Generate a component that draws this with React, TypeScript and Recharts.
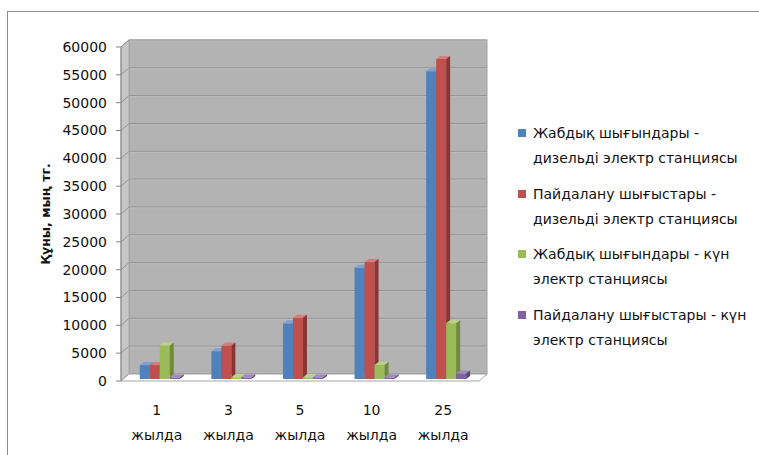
import { BarChart, Bar, XAxis, YAxis, Legend } from 'recharts';

const years = ['1', '3', '5', '10', '25'];
const yearWord = 'жылда';
const seriesNames = [
  'Жабдық шығындары -\nдизельді электр станциясы',
  'Пайдалану шығыстары -\nдизельді электр станциясы',
  'Жабдық шығындары - күн\nэлектр станциясы',
  'Пайдалану шығыстары - күн\nэлектр станциясы',
];
const dieselEquipment = [2500, 5000, 10000, 20000, 55300];
const dieselOperating = [2500, 6000, 11000, 21000, 57500];
const solarEquipment = [6000, 300, 300, 2500, 10000];
const solarOperating = [300, 300, 300, 300, 1000];
const yTicks = [0, 5000, 10000, 15000, 20000, 25000, 30000, 35000, 40000, 45000, 50000, 55000, 60000];
const yTitle = 'Құны, мың тг.';

const FONT = '"DejaVu Sans", Verdana, sans-serif';
const W = 759;
const H = 455;
const MARGIN = { top: 47, right: 280, bottom: 0, left: 0 };
const YAXIS_W = 121;
const XAXIS_H = 74;
const PLOT = {
  x: MARGIN.left + YAXIS_W,
  y: MARGIN.top,
  w: W - MARGIN.left - YAXIS_W - MARGIN.right,
  h: H - MARGIN.top - MARGIN.bottom - XAXIS_H,
};
// depth of the fake 3d walls
const WALL_DX = 8;
const WALL_DY = 7;

const palettes = [
  { front: '#4f81bd', top: '#7da1d1', side: '#36598a' },
  { front: '#c0504d', top: '#d67c79', side: '#8a3533' },
  { front: '#9bbb59', top: '#bad486', side: '#6f8a3b' },
  { front: '#8064a2', top: '#a18cc0', side: '#5a4676' },
];
const keys = ['dieselEquipment', 'dieselOperating', 'solarEquipment', 'solarOperating'];
const values = [dieselEquipment, dieselOperating, solarEquipment, solarOperating];

const data = years.map((year, i) => {
  const row: Record<string, string | number> = { year };
  keys.forEach((k, s) => (row[k] = values[s][i]));
  return row;
});

const yMax = yTicks[yTicks.length - 1];
const yPos = (v: number) => PLOT.y + PLOT.h * (1 - v / yMax);

function makeBox(c: { front: string; top: string; side: string }) {
  return (p: any) => {
    const { x, y, width, height } = p;
    if (x == null || width == null || height == null) return <g />;
    const bx = x + 3;
    const by = y - 2;
    const d = 4;
    const e = 3;
    return (
      <g>
        <rect x={bx} y={by} width={width} height={height} fill={c.front} />
        <polygon
          points={`${bx},${by} ${bx + d},${by - e} ${bx + width + d},${by - e} ${bx + width},${by}`}
          fill={c.top}
        />
        <polygon
          points={`${bx + width},${by} ${bx + width + d},${by - e} ${bx + width + d},${by + height - e} ${bx + width},${by + height}`}
          fill={c.side}
        />
      </g>
    );
  };
}

// back wall, left side wall, floor and the gridlines
function Walls() {
  const { x, y, w, h } = PLOT;
  const b = y + h;
  return (
    <g>
      <rect x={x + WALL_DX} y={y - WALL_DY} width={w} height={h} fill="#b3b3b3" stroke="#a0a0a0" />
      {yTicks.map((t) => (
        <g key={t}>
          <line
            x1={x + WALL_DX}
            y1={yPos(t) - WALL_DY}
            x2={x + w + WALL_DX}
            y2={yPos(t) - WALL_DY}
            stroke="#929292"
          />
          <line
            x1={x + WALL_DX}
            y1={yPos(t) - WALL_DY + 1}
            x2={x + w + WALL_DX}
            y2={yPos(t) - WALL_DY + 1}
            stroke="#bcbcbc"
          />
        </g>
      ))}
      <polygon
        points={`${x},${y} ${x + WALL_DX},${y - WALL_DY} ${x + WALL_DX},${b - WALL_DY} ${x},${b}`}
        fill="#c6c6c6"
        stroke="#a6a6a6"
      />
      {yTicks.map((t) => (
        <line
          key={t}
          x1={x}
          y1={yPos(t)}
          x2={x + WALL_DX}
          y2={yPos(t) - WALL_DY}
          stroke="#959595"
        />
      ))}
      <polygon
        points={`${x},${b} ${x + WALL_DX},${b - WALL_DY} ${x + w + WALL_DX},${b - WALL_DY} ${x + w},${b}`}
        fill="#ffffff"
        stroke="#a6a6a6"
      />
    </g>
  );
}

const YearTick = ({ x, y, payload }: any) => (
  <text x={x} y={y} textAnchor="middle" fontSize={14} fontFamily={FONT} fill="#111">
    <tspan x={x} dy={26}>{payload.value}</tspan>
    <tspan x={x} dy={25}>{yearWord}</tspan>
  </text>
);

const LegendBox = () => (
  <div style={{ fontFamily: FONT, fontSize: 14, color: '#111' }}>
    {seriesNames.map((name, i) => (
      <div key={name} style={{ display: 'flex', alignItems: 'flex-start', marginBottom: 10.5 }}>
        <span
          style={{
            width: 8,
            height: 8,
            background: palettes[i].front,
            marginTop: 8,
            marginRight: 7,
            flex: 'none',
          }}
        />
        <span style={{ whiteSpace: 'pre-line', lineHeight: '25px' }}>{name}</span>
      </div>
    ))}
  </div>
);

export default function App() {
  return (
    <div style={{ position: 'absolute', left: 0, top: 0, width: W, height: H, background: '#fff' }}>
      <div
        style={{
          position: 'absolute',
          left: 7,
          top: 11,
          right: 0,
          bottom: 0,
          borderTop: '1px solid #8c8c8c',
          borderLeft: '1px solid #8c8c8c',
        }}
      />
      <div style={{ position: 'absolute', left: 0, top: 0 }}>
        <BarChart width={W} height={H} data={data} margin={MARGIN} barCategoryGap="22%" barGap={0}>
          <Walls />
          <XAxis dataKey="year" height={XAXIS_H} axisLine={false} tickLine={false} tick={<YearTick />} interval={0} />
          <YAxis
            width={YAXIS_W}
            domain={[0, yMax]}
            ticks={yTicks}
            interval={0}
            stroke="#868686"
            tickSize={5}
            tickMargin={9}
            tick={{ fill: '#111', fontSize: 14, fontFamily: FONT }}
            label={{
              content: (p: any) => {
                const vb = p.viewBox || { x: 0, y: PLOT.y, width: YAXIS_W, height: PLOT.h };
                const cx = vb.x + 45;
                const cy = vb.y + vb.height / 2;
                return (
                  <text
                    x={cx}
                    y={cy}
                    transform={`rotate(-90 ${cx} ${cy})`}
                    textAnchor="middle"
                    dominantBaseline="central"
                    fontFamily={FONT}
                    fontSize={12.5}
                    fontWeight="bold"
                    fill="#111"
                  >
                    {yTitle}
                  </text>
                );
              },
            }}
          />
          <Legend
            layout="vertical"
            align="center"
            verticalAlign="middle"
            content={<LegendBox />}
            wrapperStyle={{ left: 518, top: 121, width: 240 }}
          />
          {keys.map((k, i) => (
            <Bar
              key={k}
              dataKey={k}
              name={seriesNames[i]}
              fill={palettes[i].front}
              shape={makeBox(palettes[i])}
              isAnimationActive={false}
            />
          ))}
        </BarChart>
      </div>
    </div>
  );
}
